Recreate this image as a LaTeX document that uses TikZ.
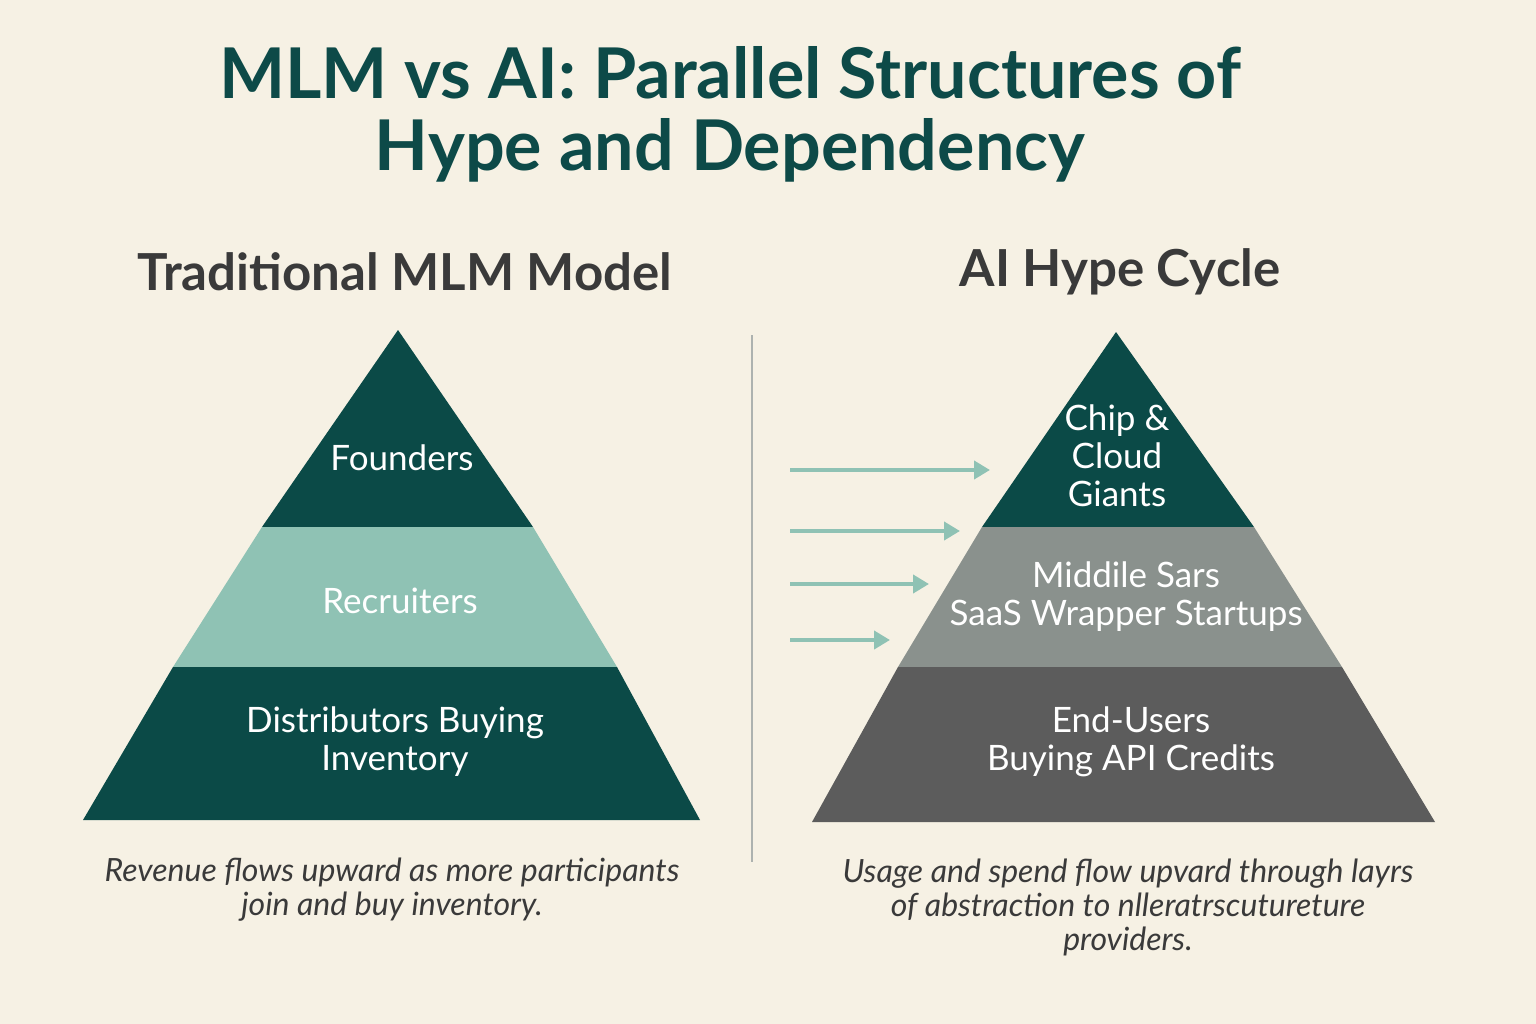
\documentclass[tikz,border=0pt]{standalone}
\usepackage{fontspec}
\setmainfont{Lato}
\usetikzlibrary{arrows.meta}
\definecolor{bg}{HTML}{F6F1E4}
\definecolor{dteal}{HTML}{0B4A47}
\definecolor{lteal}{HTML}{8FC2B4}
\definecolor{mgrey}{HTML}{8A918D}
\definecolor{dgrey}{HTML}{5C5C5C}
\definecolor{ttl}{HTML}{0D4A48}
\definecolor{sub}{HTML}{3A3A3A}
\tikzset{
 tier/.style={text=white,align=center,font=\fontsize{35}{38}\selectfont},
 captext/.style={text=sub,align=center,font=\itshape\fontsize{32}{34}\selectfont},
 head/.style={text=sub,font=\bfseries\fontsize{51}{58}\selectfont},
 flow/.style={lteal,line width=4pt,-{Triangle[length=16pt,width=18pt]}}
}
\begin{document}
\begin{tikzpicture}[x=1pt,y=-1pt]
\fill[bg] (0,0) rectangle (1536,1024);
\useasboundingbox (0,0) rectangle (1536,1024);
\node[text=ttl,align=center,font=\bfseries\fontsize{70}{72}\selectfont] (title) at (730,114) {MLM vs AI: Parallel Structures of\\Hype and Dependency};
\node[head] (hl) at (405,272) {Traditional MLM Model};
\node[head] (hr) at (1120,272) {AI Hype Cycle};
% left pyramid
\fill[dteal] (398,330) -- (533,527) -- (262,527) -- cycle;
\fill[lteal] (262,527) -- (533,527) -- (617,667) -- (173,667) -- cycle;
\fill[dteal] (173,667) -- (617,667) -- (700,820) -- (83,820) -- cycle;
\node[tier] (f) at (402,458) {Founders};
\node[tier] (r) at (400,601) {Recruiters};
\node[tier] (d) at (395,742) {Distributors Buying\\Inventory};
% divider
\draw[mgrey!70,line width=1.2pt] (752,335) -- (752,862);
% right pyramid
\fill[dteal] (1116,332) -- (1254,527) -- (982,527) -- cycle;
\fill[mgrey] (982,527) -- (1254,527) -- (1342,667) -- (898,667) -- cycle;
\fill[dgrey] (898,667) -- (1342,667) -- (1435,822) -- (812,822) -- cycle;
\node[tier] (c) at (1117,456) {Chip \&\\Cloud\\Giants};
\node[tier] (m) at (1126,597) {Middile Sars\\SaaS Wrapper Startups};
\node[tier] (e) at (1131,742) {End-Users\\Buying API Credits};
% arrows
\coordinate (a1) at (790,470); \coordinate (b1) at (990,470);
\coordinate (a2) at (790,531); \coordinate (b2) at (960,531);
\coordinate (a3) at (790,584); \coordinate (b3) at (929,584);
\coordinate (a4) at (790,640); \coordinate (b4) at (890,640);
\draw[flow] (a1) -- (b1);
\draw[flow] (a2) -- (b2);
\draw[flow] (a3) -- (b3);
\draw[flow] (a4) -- (b4);
% captions
\node[captext] (cl) at (392,890) {Revenue flows upward as more participants\\join and buy inventory.};
\node[captext] (cr) at (1128,907) {Usage and spend flow upvard through layrs\\of abstraction to nlleratrscutureture\\providers.};
\end{tikzpicture}
\end{document}
